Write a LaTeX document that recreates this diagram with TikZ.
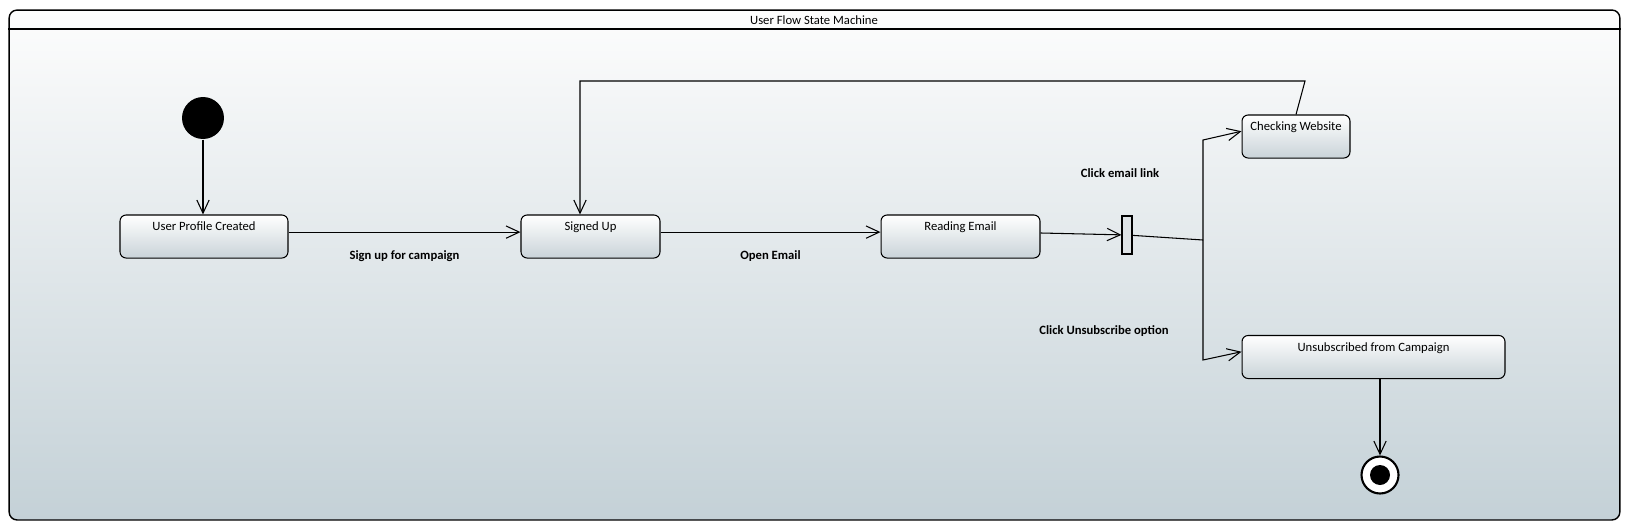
\documentclass[tikz,border=0pt]{standalone}
\usepackage{fontspec}
\setmainfont{Carlito}
\usetikzlibrary{shapes,arrows,arrows.meta,positioning}
\usepackage{xcolor}
\definecolor{smtop}{RGB}{253,253,253}
\definecolor{smbottom}{RGB}{196,209,215}
\definecolor{statebottom}{RGB}{201,211,216}
\definecolor{barfill}{RGB}{222,227,230}

\begin{document}
\begin{tikzpicture}[x=0.02cm, y=-0.02cm, line width=0.6pt, >={Straight Barb[length=7.5pt,width=7pt]}, font=\fontsize{7.2}{8.6}\selectfont]
      \tikzstyle{frame} = [rectangle, rounded corners=4.5pt, draw, line width=0.8pt, top color=smtop, bottom color=smbottom, minimum width=32.22cm, minimum height=10.2cm, inner sep=0pt]
      \tikzstyle{state} = [rectangle, rounded corners=3.5pt, draw, top color=white, bottom color=statebottom, text height=9.1pt, text depth=15.4pt, inner sep=0pt, minimum height=0.86cm]
      \tikzstyle{init} = [circle, fill=black, minimum size=0.84cm, inner sep=0pt]
      \tikzstyle{final} = [circle, draw, fill=white, line width=1.2pt, minimum size=0.74cm, inner sep=0pt]
      \tikzstyle{fork} = [rectangle, draw, fill=barfill, minimum width=0.2cm, minimum height=0.76cm, inner sep=0pt]
      \tikzstyle{trans} = [font=\fontsize{7.2}{8.6}\selectfont\bfseries]

      \useasboundingbox (0,0) rectangle (1631,531);

      \node[frame] (sm) at (814.5,265) {};
      \coordinate (sep) at (0,29);
      \draw[line width=0.8pt] (sm.west |- sep) -- (sm.east |- sep);
      \node (title) at (814,20) {User Flow State Machine};

      \node[init] (init) at (203,118) {};
      \node[state, minimum width=3.36cm] (upc) at (204,236.5) {User Profile Created};
      \node[state, minimum width=2.78cm] (signed) at (590.5,236.5) {Signed Up};
      \node[state, minimum width=3.18cm] (reading) at (960.5,236.5) {Reading Email};
      \node[fork] (fork) at (1127,235) {};
      \node[state, minimum width=2.16cm] (checking) at (1296,136.5) {Checking Website};
      \node[state, minimum width=5.26cm] (unsub) at (1373.5,357) {Unsubscribed from Campaign};
      \node[final] (final) at (1380,475) {};
      \fill (final) circle (0.2cm);

      \coordinate (fk) at (1203,240);
      \coordinate (fkup) at (1203,140);
      \coordinate (fkdn) at (1203,360);
      \coordinate (lpr) at (1305,81);
      \coordinate (lpl) at (580,81);

      \draw[->] (init) -- (init |- upc.north);
      \draw[->] ([yshift=2.5pt]upc.east) -- ([yshift=2.5pt]signed.west) node[trans, midway, below=7pt] {Sign up for campaign};
      \draw[->] ([yshift=2.5pt]signed.east) -- ([yshift=2.5pt]reading.west) node[trans, midway, below=7pt] {Open Email};
      \draw[->] ([yshift=2pt]reading.east) -- (fork);
      \draw (fork) -- (fk);
      \draw[->] (fk) -- (fkup) -- ([yshift=3pt]checking.west);
      \draw[->] (fk) -- (fkdn) -- ([yshift=3pt]unsub.west);
      \draw[->] (checking.north) -- (lpr) -- (lpl) -- (lpl |- signed.north);
      \draw[->] (unsub.south -| final) -- (final);

      \node[trans] (clicklink) at (1120,173) {Click email link};
      \node[trans] (clickunsub) at (1104,331) {Click Unsubscribe option};
    \end{tikzpicture}
\end{document}
